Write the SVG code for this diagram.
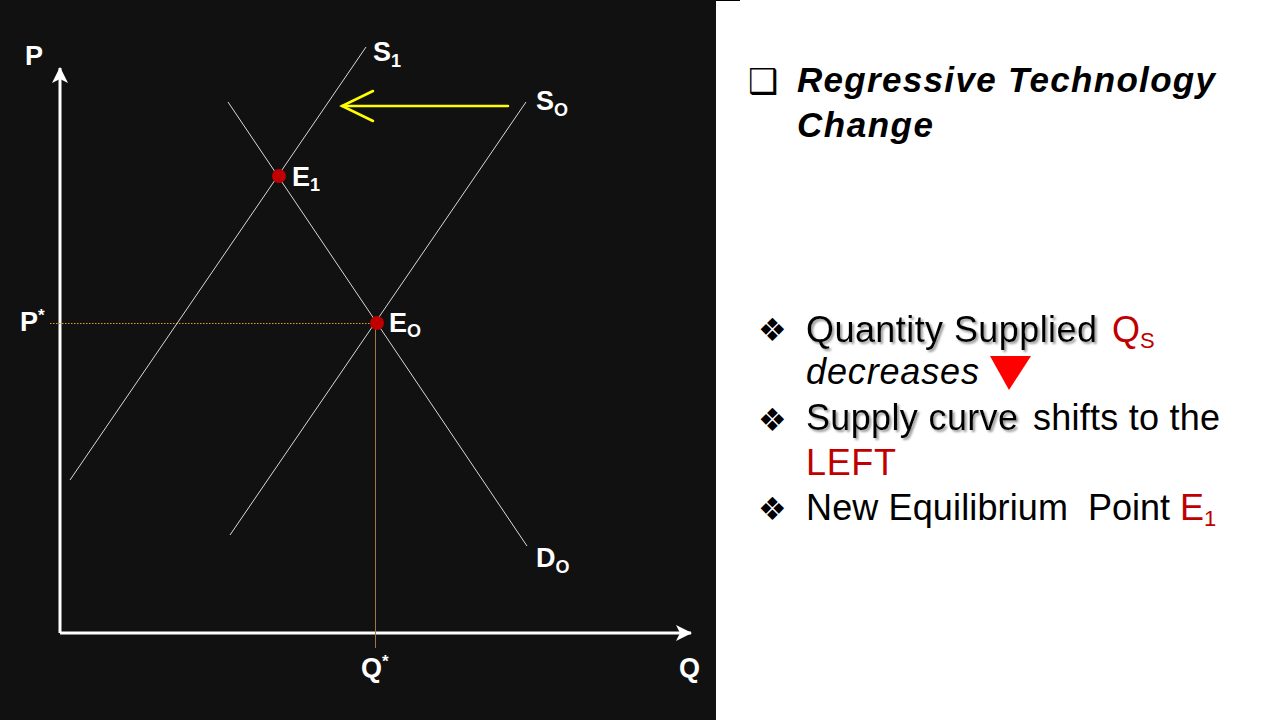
<svg xmlns="http://www.w3.org/2000/svg" width="1280" height="720" viewBox="0 0 1280 720">
<defs>
<style>
.lbl{font-family:"Liberation Sans",Arial,sans-serif;font-weight:bold;fill:#fff;font-size:27px}
.sub{font-size:18px}
.curve{stroke:#d8d8d8;stroke-width:1;fill:none}
.axis{stroke:#fff;stroke-width:3;fill:none}
.body{font-family:"Liberation Sans",Arial,sans-serif;font-size:36px;fill:#000}
.red{fill:#c00000}
.shd{filter:url(#shadow)}
.bul{font-family:"DejaVu Sans",sans-serif;fill:#000}
</style>
<filter id="shadow" x="-5%" y="-20%" width="115%" height="150%">
<feDropShadow dx="2" dy="2" stdDeviation="1" flood-color="#808080" flood-opacity="0.8"/>
</filter>
<marker id="ah" viewBox="0 0 16 16" refX="15" refY="8" markerWidth="16" markerHeight="16" markerUnits="userSpaceOnUse" orient="auto">
<path d="M0,0 L16,8 L0,16 L4,8 Z" fill="#fff"/>
</marker>
</defs>
<rect x="0" y="0" width="1280" height="720" fill="#fff"/>
<rect x="0" y="0" width="716" height="720" fill="#111"/>
<line x1="716" y1="0.5" x2="740" y2="0.5" stroke="#000" stroke-width="1"/>

<g id="connectors">
<line class="axis" x1="60" y1="633" x2="60" y2="68" marker-end="url(#ah)"/>
<line class="axis" x1="60" y1="633" x2="691" y2="633" marker-end="url(#ah)"/>
<line x1="50" y1="323.5" x2="377" y2="323.5" stroke="#e0a020" stroke-width="1" stroke-dasharray="1.5,1.5"/>
<line x1="375.5" y1="323" x2="375.5" y2="648" stroke="#9a7a40" stroke-width="1"/>
<line class="curve" x1="70" y1="480" x2="366" y2="47"/>
<line class="curve" x1="230" y1="535" x2="526" y2="102"/>
<line class="curve" x1="228" y1="102" x2="527" y2="546"/>
<g stroke="#ffff00" stroke-width="2.5" fill="none" stroke-linecap="round">
<line x1="508" y1="106" x2="342" y2="106"/>
<polyline points="373,91 342,106 373,121"/>
</g>
</g>

<g id="E1"><circle cx="279" cy="176" r="7" fill="#c00000"/><text class="lbl" x="292" y="186">E<tspan class="sub" dy="5">1</tspan></text></g>
<g id="E0"><circle cx="377" cy="323" r="7" fill="#c00000"/><text class="lbl" x="389" y="332">E<tspan class="sub" dy="5">O</tspan></text></g>
<g id="S1"><text class="lbl" x="373" y="61">S<tspan class="sub" dy="6">1</tspan></text></g>
<g id="S0"><text class="lbl" x="536" y="110">S<tspan class="sub" dy="6">O</tspan></text></g>
<g id="D0"><text class="lbl" x="536" y="567">D<tspan class="sub" dy="6">O</tspan></text></g>
<g id="Plabel"><text class="lbl" x="25" y="65">P</text></g>
<g id="Pstar"><text class="lbl" x="20" y="331">P<tspan font-size="17" dy="-10">*</tspan></text></g>
<g id="Qstar"><text class="lbl" x="361" y="677">Q<tspan font-size="17" dy="-10">*</tspan></text></g>
<g id="Qlabel"><text class="lbl" x="679" y="677">Q</text></g>

<g id="title">
<text class="bul" x="748" y="93" font-size="34">❑</text>
<text font-family="'Liberation Sans',Arial,sans-serif" font-size="35" font-weight="bold" font-style="italic" fill="#000"><tspan x="797" y="92" textLength="418" lengthAdjust="spacing">Regressive Technology</tspan><tspan x="797" y="137" textLength="136" lengthAdjust="spacing">Change</tspan></text>
</g>

<g id="bullets">
<text class="bul" x="758" y="341" font-size="32">❖</text>
<text class="body shd" x="806" y="342" textLength="291" lengthAdjust="spacing">Quantity Supplied</text>
<text class="body red" x="1112" y="342">Q<tspan font-size="22" dy="6">S</tspan></text>
<text class="body" x="806" y="384" font-style="italic" textLength="173" lengthAdjust="spacing">decreases</text>
<polygon points="990,356 1031,356 1009,390" fill="#ff0000"/>
<text class="bul" x="758" y="431" font-size="32">❖</text>
<text class="body shd" x="806" y="430" textLength="212" lengthAdjust="spacing">Supply curve</text>
<text class="body" x="1033" y="430" textLength="187" lengthAdjust="spacing">shifts to the</text>
<text class="body red" x="806" y="475" textLength="90" lengthAdjust="spacing">LEFT</text>
<text class="bul" x="758" y="520" font-size="32">❖</text>
<text class="body" x="806" y="520" textLength="262" lengthAdjust="spacing">New Equilibrium</text>
<text class="body" x="1088" y="520" textLength="82" lengthAdjust="spacing">Point</text>
<text class="body red" x="1180" y="520">E<tspan font-size="22" dy="6">1</tspan></text>
</g>
</svg>
